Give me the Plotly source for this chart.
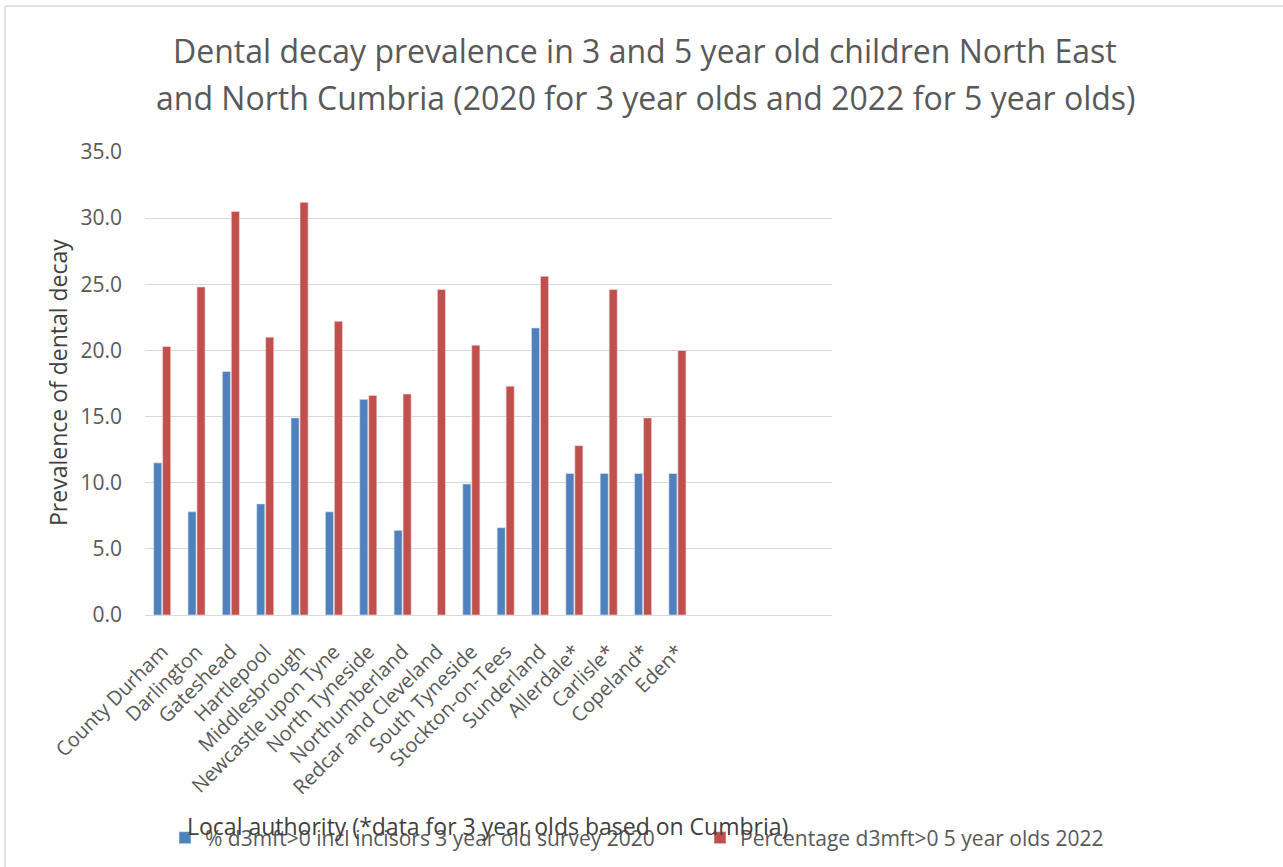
import plotly.graph_objects as go

categories = ["County Durham", "Darlington", "Gateshead", "Hartlepool", "Middlesbrough",
              "Newcastle upon Tyne", "North Tyneside", "Northumberland", "Redcar and Cleveland",
              "South Tyneside", "Stockton-on-Tees", "Sunderland", "Allerdale*", "Carlisle*",
              "Copeland*", "Eden*"]
three_year_2020 = [11.5, 7.8, 18.4, 8.4, 14.9, 7.8, 16.3, 6.4, None, 9.9, 6.6, 21.7, 10.7, 10.7, 10.7, 10.7]
five_year_2022 = [20.3, 24.8, 30.5, 21.0, 31.2, 22.2, 16.6, 16.7, 24.6, 20.4, 17.3, 25.6, 12.8, 24.6, 14.9, 20.0]
y_ticks = [0, 5, 10, 15, 20, 25, 30, 35]
y_tick_labels = ["0.0", "5.0", "10.0", "15.0", "20.0", "25.0", "30.0", "35.0"]

W, H = 1283, 867
L, R, T, B = 145, 832, 152, 615
pw, ph = R - L, B - T

def px(x):
    return (x - L) / pw

def py(y):
    return (B - y) / ph

FONT = "Open Sans"
GRAY = "#595959"
DARK = "#404040"

fig = go.Figure()
fig.add_trace(go.Bar(x=categories, y=three_year_2020,
                     name="% d3mft>0 incl incisors 3 year old survey 2020",
                     legend="legend",
                     marker=dict(color="#4F81BD", line=dict(color="#dfe8f3", width=0.6))))
fig.add_trace(go.Bar(x=categories, y=five_year_2022,
                     name="Percentage d3mft>0 5 year olds 2022",
                     legend="legend2",
                     marker=dict(color="#C0504D", line=dict(color="#f3dede", width=0.6))))

leg_common = dict(orientation="h", yanchor="middle", xanchor="left",
                  font=dict(size=21, color=GRAY, family=FONT), bgcolor="rgba(0,0,0,0)",
                  borderwidth=0, itemwidth=30)
fig.update_layout(
    width=W, height=H,
    margin=dict(l=L, r=W - R, t=T, b=H - B, autoexpand=False),
    paper_bgcolor="white", plot_bgcolor="white",
    barmode="group", bargap=0.477, bargroupgap=0.1,
    font=dict(family=FONT, color=GRAY, size=20),
    showlegend=True,
    legend=dict(x=px(165), y=py(838), **leg_common),
    legend2=dict(x=px(700), y=py(838), **leg_common),
)
fig.update_xaxes(type="category", range=[-0.5, 19.5], tickangle=-45,
                 tickfont=dict(size=20, color=GRAY, family=FONT), showgrid=False,
                 showline=True, linecolor="#d9d9d9", linewidth=1.3, ticks="",
                 ticklabelstandoff=16)
fig.update_yaxes(range=[0, 35], tickvals=y_ticks, ticktext=y_tick_labels,
                 tickfont=dict(size=21, color=GRAY, family=FONT), showgrid=True,
                 gridcolor="#d9d9d9", gridwidth=1.3, zeroline=False,
                 showline=False, ticks="", ticklabelstandoff=22)

annotations = [
    dict(text="Dental decay prevalence in 3 and 5 year old children North East",
         x=px(645), y=py(50), xref="paper", yref="paper", showarrow=False,
         xanchor="center", yanchor="middle", font=dict(size=32, color=GRAY, family=FONT)),
    dict(text="and North Cumbria (2020 for 3 year olds and 2022 for 5 year olds)",
         x=px(645), y=py(97), xref="paper", yref="paper", showarrow=False,
         xanchor="center", yanchor="middle", font=dict(size=32, color=GRAY, family=FONT)),
    dict(text="Prevalence of dental decay", textangle=-90,
         x=px(58), y=py(383), xref="paper", yref="paper", showarrow=False,
         xanchor="center", yanchor="middle", font=dict(size=23, color=DARK, family=FONT)),
    dict(text="Local authority (*data for 3 year olds based on Cumbria)",
         x=px(487), y=py(826), xref="paper", yref="paper", showarrow=False,
         xanchor="center", yanchor="middle", font=dict(size=23, color=DARK, family=FONT)),
]
fig.update_layout(annotations=annotations)

fig.add_shape(type="line", xref="paper", yref="paper", x0=px(5), x1=px(1283), y0=py(6), y1=py(6),
              line=dict(color="#d9d9d9", width=1.5))
fig.add_shape(type="line", xref="paper", yref="paper", x0=px(5), x1=px(5), y0=py(6), y1=py(867),
              line=dict(color="#d9d9d9", width=1.5))

fig.write_html("out.html", config={"displayModeBar": False},
               post_script="document.body.style.margin='0px';document.body.style.overflow='hidden';")
